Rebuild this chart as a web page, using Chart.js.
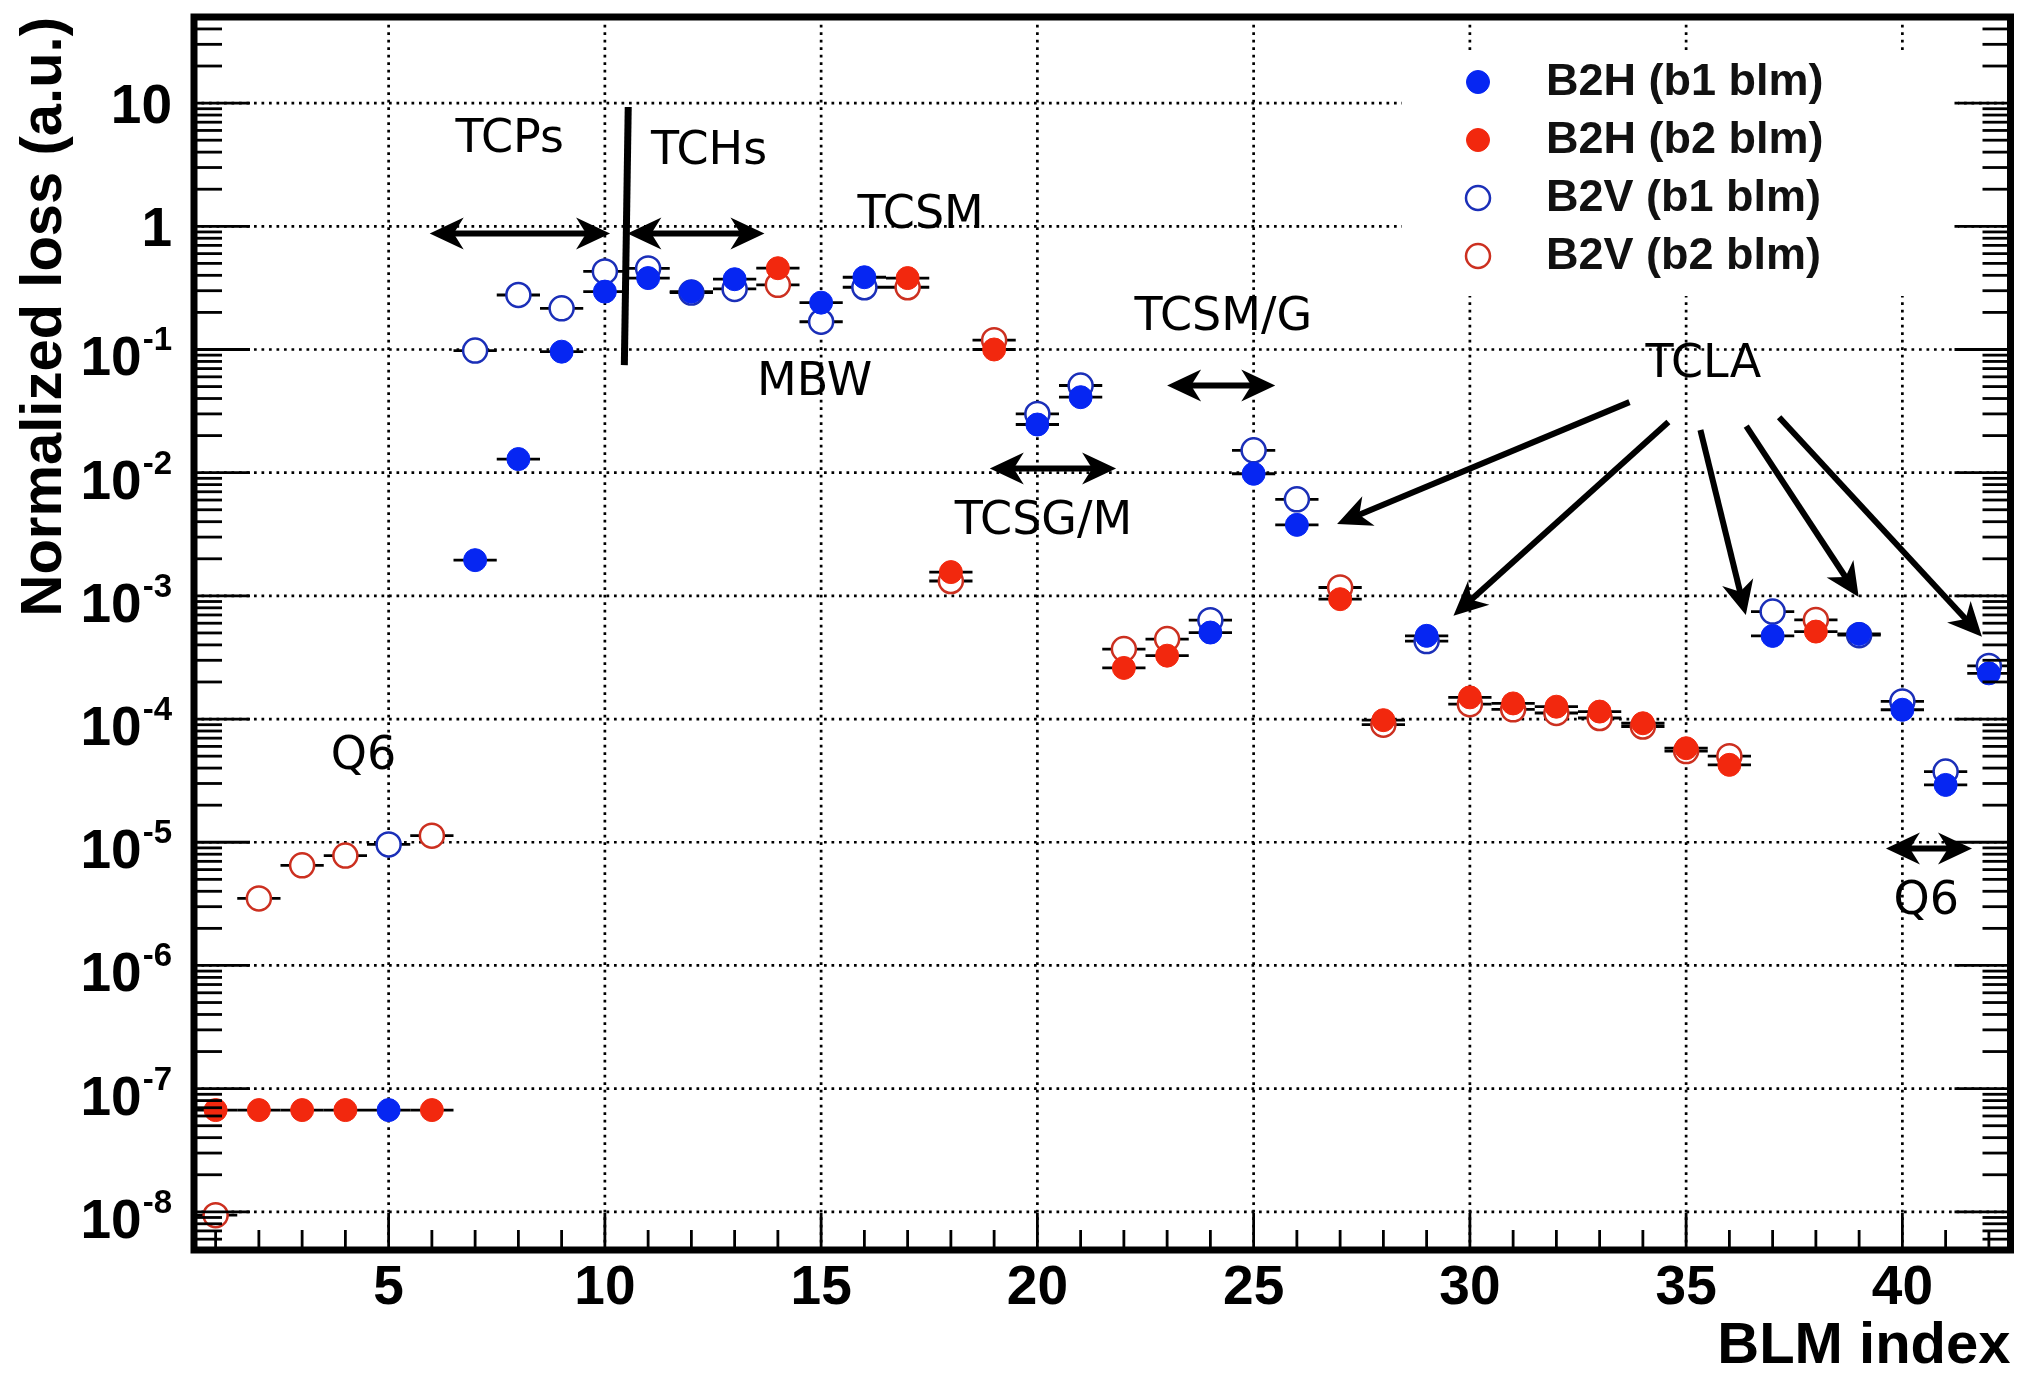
<!DOCTYPE html>
<html>
<head>
<meta charset="utf-8">
<title>Normalized loss per BLM</title>
<script src="https://cdn.jsdelivr.net/npm/chart.js@4.4.1/dist/chart.umd.min.js"></script>
<style>
  html, body { margin: 0; padding: 0; background: #fff; }
  #wrap { width: 2025px; height: 1376px; position: relative; }
</style>
</head>
<body>
<div id="wrap"><canvas id="myChart"></canvas></div>
<script>
const blmIndex = [1, 2, 3, 4, 5, 6, 7, 8, 9, 10, 11, 12, 13, 14, 15, 16, 17, 18, 19, 20, 21,
  22, 23, 24, 25, 26, 27, 28, 29, 30, 31, 32, 33, 34, 35, 36, 37, 38, 39, 40, 41, 42];

// filled markers: B2H, open markers: B2V; blue = beam 1 BLM, red = beam 2 BLM
const b2hB1 = [
  null, null, null, null, 6.7e-8, null, 1.95e-3, 0.0129, 0.096, 0.295,
  0.38, 0.295, 0.372, null, 0.24, 0.386, null, null, null, 0.0246,
  0.041, null, null, 5.04e-4, 9.8e-3, 3.77e-3, null, null, 4.74e-4, null,
  null, null, null, null, null, null, 4.73e-4, null, 4.91e-4, 1.19e-4,
  2.92e-5, 2.35e-4];
const b2hB2 = [
  6.7e-8, 6.7e-8, 6.7e-8, 6.7e-8, null, 6.7e-8, null, null, null, null,
  null, null, null, 0.457, null, null, 0.38, 1.56e-3, 0.1, null,
  null, 2.6e-4, 3.27e-4, null, null, null, 9.4e-4, 9.8e-5, null, 1.5e-4,
  1.34e-4, 1.26e-4, 1.15e-4, 9.25e-5, 5.8e-5, 4.25e-5, null, 5.13e-4, null, null,
  null, null];
const b2vB1 = [
  null, null, null, null, 9.6e-6, null, 0.098, 0.277, 0.216, 0.43,
  0.455, 0.29, 0.31, null, 0.168, 0.32, null, null, null, 0.030,
  0.051, null, null, 6.35e-4, 0.0152, 6.08e-3, null, null, 4.3e-4, null,
  null, null, null, null, null, null, 7.46e-4, null, 4.8e-4, 1.39e-4,
  3.75e-5, 2.7e-4];
const b2vB2 = [
  9.4e-9, 3.5e-6, 6.5e-6, 7.8e-6, null, 1.13e-5, null, null, null, null,
  null, null, null, 0.335, null, null, 0.32, 1.32e-3, 0.119, null,
  null, 3.7e-4, 4.46e-4, null, null, null, 1.17e-3, 9.0e-5, null, 1.32e-4,
  1.2e-4, 1.12e-4, 1.02e-4, 8.7e-5, 5.5e-5, 5.0e-5, null, 6.38e-4, null, null,
  null, null];

const seriesNames = ['B2H (b1 blm)', 'B2H (b2 blm)', 'B2V (b1 blm)', 'B2V (b2 blm)'];

const xTickValues = [5, 10, 15, 20, 25, 30, 35, 40];
const yTickValues = [1e-8, 1e-7, 1e-6, 1e-5, 1e-4, 1e-3, 1e-2, 1e-1, 1, 10];
const yTickBases = ['10', '10', '10', '10', '10', '10', '10', '10', '1', '10'];
const yTickExps = ['-8', '-7', '-6', '-5', '-4', '-3', '-2', '-1', '', ''];
const yMinorSteps = [2, 3, 4, 5, 6, 7, 8, 9];

// annotations, in data coordinates
const noteText = ['TCPs', 'TCHs', 'TCSM', 'MBW', 'TCSM/G', 'TCSG/M', 'TCLA', 'Q6', 'Q6'];
const noteX = [7.80, 12.41, 17.30, 14.85, 24.30, 20.14, 35.40, 4.42, 40.55];
const noteY = [5.0, 4.0, 1.22, 0.0533, 0.18, 0.0040, 0.0747, 4.9e-5, 3.3e-6];

const spanX1 = [5.95, 10.52, 23.0, 18.9, 39.62];
const spanX2 = [10.12, 13.69, 25.5, 21.82, 41.61];
const spanY = [0.875, 0.875, 0.0509, 0.0108, 8.9e-6];

const dividerX = [10.54, 10.45];
const dividerY = [9.3, 0.0746];

const tclaFromX = [33.69, 34.59, 35.33, 36.39, 37.15];
const tclaFromY = [0.0374, 0.0258, 0.0222, 0.0239, 0.0282];
const tclaToX = [26.93, 29.62, 36.38, 38.99, 41.84];
const tclaToY = [3.83e-3, 6.9e-4, 6.98e-4, 9.77e-4, 4.66e-4];

const boldFace = '"Liberation Sans", Arial, Helvetica, sans-serif';
const noteFace = '"DejaVu Sans", Verdana, sans-serif';
const blueFill = '#0626f2';
const redFill = '#f2280e';
const blueLine = '#1b2fb8';
const redLine = '#cc3020';

let toPoints = (vals) => blmIndex
  .map((x, i) => ({ x: x, y: vals[i] }))
  .filter((p) => p.y !== null);

let arrowHead = (ctx, tx, ty, ang) => {
  const L = 34, W = 16, N = 24;
  const c = Math.cos(ang), s = Math.sin(ang);
  ctx.beginPath();
  ctx.moveTo(tx, ty);
  ctx.lineTo(tx - L * c - W * s, ty - L * s + W * c);
  ctx.lineTo(tx - N * c, ty - N * s);
  ctx.lineTo(tx - L * c + W * s, ty - L * s - W * c);
  ctx.closePath();
  ctx.fill();
};

let arrow = (ctx, x1, y1, x2, y2, both) => {
  const ang = Math.atan2(y2 - y1, x2 - x1);
  const c = Math.cos(ang), s = Math.sin(ang);
  const cut = 22;
  ctx.beginPath();
  ctx.moveTo(both ? x1 + cut * c : x1, both ? y1 + cut * s : y1);
  ctx.lineTo(x2 - cut * c, y2 - cut * s);
  ctx.stroke();
  arrowHead(ctx, x2, y2, ang);
  if (both) arrowHead(ctx, x1, y1, ang + Math.PI);
};

let rootLook = {
  id: 'rootLook',
  beforeDatasetsDraw(chart) {
    const { ctx, chartArea: a, scales: { x, y } } = chart;
    ctx.save();
    // dotted grid
    ctx.strokeStyle = '#000';
    ctx.lineWidth = 2.7;
    ctx.setLineDash([2.7, 4.8]);
    xTickValues.forEach((v) => {
      const px = x.getPixelForValue(v);
      ctx.beginPath(); ctx.moveTo(px, a.bottom); ctx.lineTo(px, a.top); ctx.stroke();
    });
    yTickValues.forEach((v) => {
      const py = y.getPixelForValue(v);
      ctx.beginPath(); ctx.moveTo(a.left, py); ctx.lineTo(a.right, py); ctx.stroke();
    });
    ctx.setLineDash([]);
    // legend backdrop hides the grid
    ctx.fillStyle = '#fff';
    ctx.fillRect(1402, 50, 556, 246);
    // horizontal error bars (bin width)
    ctx.strokeStyle = '#000';
    ctx.lineWidth = 2.8;
    chart.data.datasets.forEach((ds) => {
      ds.data.forEach((p) => {
        const py = y.getPixelForValue(p.y);
        ctx.beginPath();
        ctx.moveTo(x.getPixelForValue(p.x - 0.5), py);
        ctx.lineTo(x.getPixelForValue(p.x + 0.5), py);
        ctx.stroke();
      });
    });
    ctx.restore();
  },
  afterDatasetsDraw(chart) {
    const { ctx, chartArea: a, scales: { x, y } } = chart;
    ctx.save();
    ctx.strokeStyle = '#000';
    ctx.fillStyle = '#000';

    // x ticks, pointing up
    ctx.lineWidth = 2.8;
    blmIndex.forEach((v) => {
      const px = x.getPixelForValue(v);
      const len = v % 5 === 0 ? 37 : 20;
      ctx.beginPath(); ctx.moveTo(px, a.bottom); ctx.lineTo(px, a.bottom - len); ctx.stroke();
    });

    // y ticks on both sides
    let yTick = (v, len) => {
      if (v < y.min || v > y.max) return;
      const py = y.getPixelForValue(v);
      ctx.beginPath(); ctx.moveTo(a.left, py); ctx.lineTo(a.left + len, py); ctx.stroke();
      ctx.beginPath(); ctx.moveTo(a.right, py); ctx.lineTo(a.right - len, py); ctx.stroke();
    };
    [1e-9].concat(yTickValues).forEach((d) => {
      yTick(d, 56);
      yMinorSteps.forEach((m) => yTick(m * d, 28));
    });

    // frame
    ctx.lineWidth = 7;
    ctx.strokeRect(a.left, a.top, a.right - a.left, a.bottom - a.top);

    // y labels with exponents
    const edge = 172;
    ctx.textAlign = 'right';
    ctx.textBaseline = 'alphabetic';
    yTickValues.forEach((v, i) => {
      const py = y.getPixelForValue(v);
      if (yTickExps[i]) {
        ctx.font = 'bold 33px ' + boldFace;
        const we = ctx.measureText(yTickExps[i]).width;
        ctx.fillText(yTickExps[i], edge, py + 1);
        ctx.font = 'bold 55px ' + boldFace;
        ctx.fillText(yTickBases[i], edge - we - 1, py + 26);
      } else {
        ctx.font = 'bold 55px ' + boldFace;
        ctx.fillText(yTickBases[i], edge, py + 20);
      }
    });

    // legend
    const rowY = [82, 140, 198, 256];
    chart.data.datasets.forEach((ds, i) => {
      ctx.beginPath();
      ctx.arc(1478, rowY[i], ds.pointRadius, 0, Math.PI * 2);
      ctx.fillStyle = ds.backgroundColor;
      ctx.fill();
      ctx.lineWidth = ds.borderWidth;
      ctx.strokeStyle = ds.borderColor;
      ctx.stroke();
      ctx.fillStyle = '#111';
      ctx.font = 'bold 45px ' + boldFace;
      ctx.textAlign = 'left';
      ctx.textBaseline = 'middle';
      ctx.fillText(ds.label, 1546, rowY[i] + 1);
    });

    // annotations
    ctx.fillStyle = '#000';
    ctx.strokeStyle = '#000';
    ctx.font = '46px ' + noteFace;
    ctx.textAlign = 'center';
    ctx.textBaseline = 'middle';
    noteText.forEach((t, i) => {
      ctx.fillText(t, x.getPixelForValue(noteX[i]), y.getPixelForValue(noteY[i]));
    });
    ctx.lineWidth = 6;
    spanX1.forEach((v, i) => {
      const py = y.getPixelForValue(spanY[i]);
      arrow(ctx, x.getPixelForValue(v), py, x.getPixelForValue(spanX2[i]), py, true);
    });
    tclaFromX.forEach((v, i) => {
      arrow(ctx, x.getPixelForValue(v), y.getPixelForValue(tclaFromY[i]),
        x.getPixelForValue(tclaToX[i]), y.getPixelForValue(tclaToY[i]), false);
    });
    ctx.lineWidth = 7;
    ctx.beginPath();
    ctx.moveTo(x.getPixelForValue(dividerX[0]), y.getPixelForValue(dividerY[0]));
    ctx.lineTo(x.getPixelForValue(dividerX[1]), y.getPixelForValue(dividerY[1]));
    ctx.stroke();
    ctx.restore();
  }
};

(function () {
  const ctx = document.getElementById('myChart');
  const dataset = {
    datasets: [
      { label: seriesNames[0], data: toPoints(b2hB1), pointRadius: 11.5,
        backgroundColor: blueFill, borderColor: blueFill, borderWidth: 1 },
      { label: seriesNames[1], data: toPoints(b2hB2), pointRadius: 11.5,
        backgroundColor: redFill, borderColor: redFill, borderWidth: 1 },
      { label: seriesNames[2], data: toPoints(b2vB1), pointRadius: 12,
        backgroundColor: '#fff', borderColor: blueLine, borderWidth: 2.5 },
      { label: seriesNames[3], data: toPoints(b2vB2), pointRadius: 12,
        backgroundColor: '#fff', borderColor: redLine, borderWidth: 2.5 },
    ],
  };
  const config = {
    type: 'scatter',
    data: dataset,
    options: {
      responsive: true,
      maintainAspectRatio: false,
      animation: false,
      events: [],
      layout: { padding: { top: 17, right: 7, left: 0, bottom: 0 } },
      plugins: { legend: { display: false }, tooltip: { enabled: false } },
      scales: {
        x: {
          type: 'linear', min: 0.5, max: 42.5,
          afterBuildTicks: (s) => { s.ticks = xTickValues.map((v) => ({ value: v })); },
          afterFit: (s) => { s.height = 126; },
          grid: { display: false, drawTicks: false },
          border: { display: false },
          ticks: { autoSkip: false, maxRotation: 0, padding: 6, color: '#000',
            font: { family: boldFace, size: 55, weight: 'bold', lineHeight: 1.2 } },
          title: { display: true, text: 'BLM index', align: 'end', color: '#000',
            padding: { top: 0, bottom: 0 },
            font: { family: boldFace, size: 58, weight: 'bold', lineHeight: 1.0 } },
        },
        y: {
          type: 'logarithmic', min: 4.9e-9, max: 50,
          afterFit: (s) => { s.width = 194; },
          grid: { display: false, drawTicks: false },
          border: { display: false },
          ticks: { display: false },
          title: { display: true, text: 'Normalized loss (a.u.)', align: 'end', color: '#000',
            padding: { top: 10, bottom: 0 },
            font: { family: boldFace, size: 58, weight: 'bold', lineHeight: 1.2 } },
        },
      },
    },
    plugins: [rootLook],
  };
  const chart = new Chart(ctx, config);
})();
</script>
</body>
</html>
